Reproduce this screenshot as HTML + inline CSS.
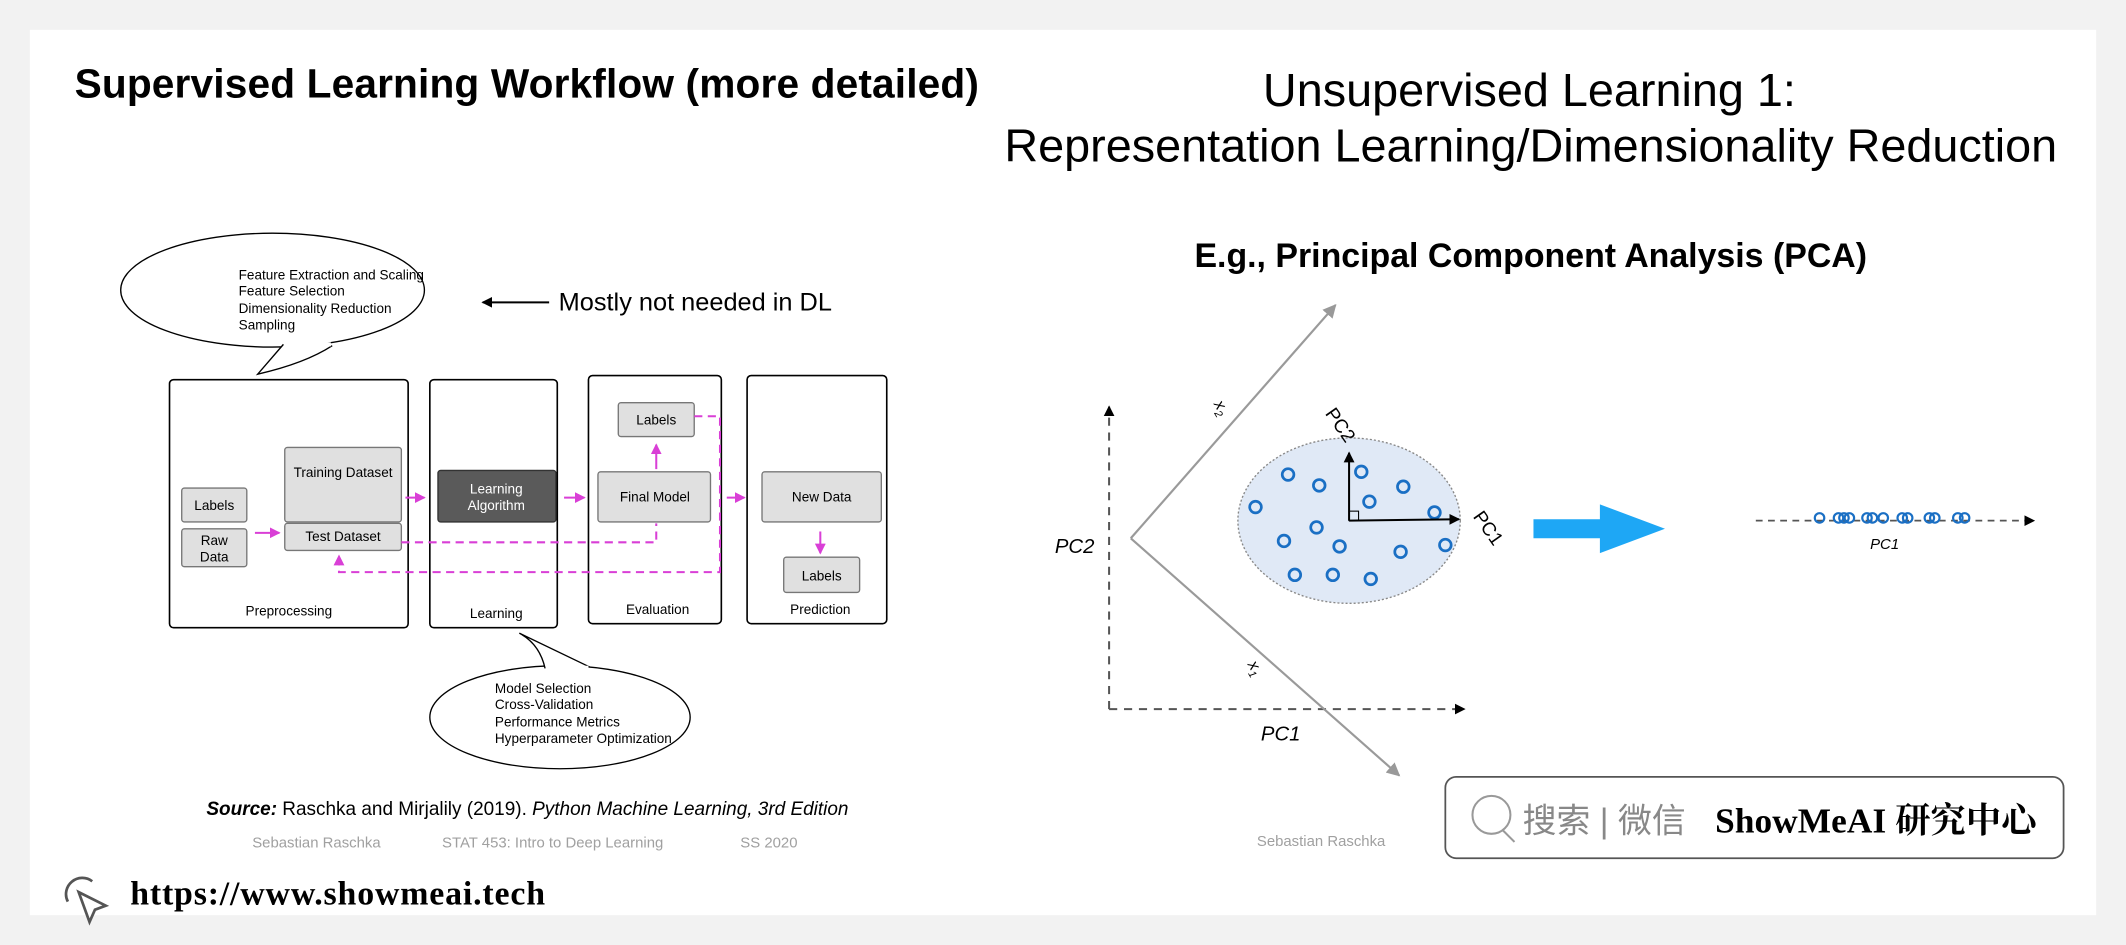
<!DOCTYPE html>
<html><head><meta charset="utf-8"><style>
html,body{margin:0;padding:0;background:#f2f2f2;}
svg{display:block;}
.s{font-family:"Liberation Sans",sans-serif;}
</style></head><body>
<svg width="2126" height="945" viewBox="0 0 1568 697" xmlns="http://www.w3.org/2000/svg" class="s">
<defs>
<marker id="mk" markerWidth="8" markerHeight="8" refX="7" refY="4" orient="auto" markerUnits="userSpaceOnUse"><path d="M0,0 L8,4 L0,8 Z" fill="#000"/></marker>
<marker id="mg" markerWidth="10" markerHeight="10" refX="9" refY="5" orient="auto" markerUnits="userSpaceOnUse"><path d="M0,0 L10,5 L0,10 Z" fill="#999"/></marker>
<marker id="mm" markerWidth="8" markerHeight="8" refX="7" refY="4" orient="auto" markerUnits="userSpaceOnUse"><path d="M0,0 L8,4 L0,8 Z" fill="#d93fd6"/></marker>
</defs>
<rect x="0" y="0" width="1568" height="697" fill="#f2f2f2"/>
<rect x="22" y="22" width="1524" height="653" fill="#fff"/>

<text x="55" y="72" font-size="30" font-weight="bold" textLength="667">Supervised Learning Workflow (more detailed)</text>
<text x="1128" y="78" font-size="34.5" text-anchor="middle">Unsupervised Learning 1:</text>
<text x="1129" y="119" font-size="34.5" text-anchor="middle">Representation Learning/Dimensionality Reduction</text>
<text x="1129" y="197" font-size="25" font-weight="bold" text-anchor="middle">E.g., Principal Component Analysis (PCA)</text>

<!-- top bubble -->
<ellipse cx="201" cy="214" rx="112" ry="42" fill="#fff" stroke="#000" stroke-width="1"/>
<path d="M209,254 L190,276 Q225,268 245,255" fill="#fff" stroke="#000"/>
<path d="M210,253.5 L244,254" stroke="#fff" stroke-width="3"/>
<g font-size="10">
<text x="176" y="206">Feature Extraction and Scaling</text>
<text x="176" y="218">Feature Selection</text>
<text x="176" y="231">Dimensionality Reduction</text>
<text x="176" y="243">Sampling</text>
</g>
<line x1="405" y1="223" x2="356" y2="223" stroke="#000" stroke-width="1.5" marker-end="url(#mk)"/>
<text x="412" y="229" font-size="18.7">Mostly not needed in DL</text>

<!-- boxes -->
<g fill="none" stroke="#000" stroke-width="1.2">
<rect x="125" y="280" width="176" height="183" rx="3"/>
<rect x="317" y="280" width="94" height="183" rx="3"/>
<rect x="434" y="277" width="98" height="183" rx="3"/>
<rect x="551" y="277" width="103" height="183" rx="3"/>
</g>
<g fill="#e0e0e0" stroke="#777" stroke-width="1">
<rect x="134" y="360" width="48" height="25" rx="2"/>
<rect x="134" y="390" width="48" height="28" rx="2"/>
<rect x="210" y="330" width="86" height="55" rx="2"/>
<rect x="210" y="386" width="86" height="20" rx="2"/>
<rect x="456" y="297" width="56" height="25" rx="2"/>
<rect x="441" y="348" width="83" height="37" rx="2"/>
<rect x="562" y="348" width="88" height="37" rx="2"/>
<rect x="578" y="411" width="56" height="26" rx="2"/>
</g>
<rect x="323" y="347" width="87" height="38" rx="2" fill="#5a5a5a" stroke="#333"/>
<g font-size="10" text-anchor="middle">
<text x="158" y="376">Labels</text>
<text x="158" y="402">Raw</text><text x="158" y="414">Data</text>
<text x="253" y="352">Training Dataset</text>
<text x="253" y="399">Test Dataset</text>
<text x="366" y="364" fill="#fff">Learning</text><text x="366" y="376" fill="#fff">Algorithm</text>
<text x="484" y="313">Labels</text>
<text x="483" y="370">Final Model</text>
<text x="606" y="370">New Data</text>
<text x="606" y="428">Labels</text>
<text x="213" y="454">Preprocessing</text>
<text x="366" y="456">Learning</text>
<text x="485" y="453">Evaluation</text>
<text x="605" y="453">Prediction</text>
</g>
<!-- magenta -->
<g stroke="#d93fd6" stroke-width="1.5" fill="none">
<line x1="188" y1="393" x2="206" y2="393" marker-end="url(#mm)"/>
<line x1="299" y1="367" x2="313" y2="367" marker-end="url(#mm)"/>
<line x1="416" y1="367" x2="431" y2="367" marker-end="url(#mm)"/>
<line x1="484" y1="346" x2="484" y2="328" marker-end="url(#mm)"/>
<line x1="536" y1="367" x2="549" y2="367" marker-end="url(#mm)"/>
<line x1="605" y1="392" x2="605" y2="408" marker-end="url(#mm)"/>
<path d="M296,400 L484,400 L484,386" stroke-dasharray="6,4"/>
<path d="M512,307 L531,307 L531,422 L250,422 L250,410" stroke-dasharray="6,4" marker-end="url(#mm)"/>
</g>

<!-- bottom bubble -->
<ellipse cx="413" cy="529" rx="96" ry="38" fill="#fff" stroke="#000"/>
<path d="M435,492 L383,467 Q398,475 402,493" fill="#fff" stroke="#000"/>
<path d="M403,492.5 L434,492.5" stroke="#fff" stroke-width="3"/>
<g font-size="10">
<text x="365" y="511">Model Selection</text>
<text x="365" y="523">Cross-Validation</text>
<text x="365" y="536">Performance Metrics</text>
<text x="365" y="548">Hyperparameter Optimization</text>
</g>

<text x="389" y="601" font-size="14" text-anchor="middle"><tspan font-weight="bold" font-style="italic">Source:</tspan> Raschka and Mirjalily (2019). <tspan font-style="italic">Python Machine Learning, 3rd Edition</tspan></text>
<g font-size="11" fill="#a0a0a0">
<text x="186" y="625">Sebastian Raschka</text>
<text x="326" y="625">STAT 453: Intro to Deep Learning</text>
<text x="546" y="625">SS 2020</text>
<text x="927" y="624">Sebastian Raschka</text>
</g>
<!-- logo -->
<g stroke="#555" stroke-width="2" fill="none">
<path d="M50,665 A12,12 0 0 1 68,650"/>
<path d="M58,658 L78,668 L70,671 L66,680 Z" fill="#fff"/>
</g>
<text x="96" y="667" font-size="25" font-weight="bold" font-family="Liberation Serif,serif" textLength="306">https://www.showmeai.tech</text>

<!-- PCA left -->
<g stroke="#555" stroke-width="1.5" fill="none" stroke-dasharray="6,5">
<line x1="818" y1="523" x2="818" y2="300" marker-end="url(#mk)"/>
<line x1="818" y1="523" x2="1080" y2="523" marker-end="url(#mk)"/>
</g>
<text x="778" y="408" font-size="15" font-style="italic">PC2</text>
<text x="930" y="546" font-size="15" font-style="italic">PC1</text>
<g stroke="#9a9a9a" stroke-width="1.6" fill="none">
<line x1="834" y1="397" x2="985" y2="225" marker-end="url(#mg)"/>
<line x1="834" y1="397" x2="1032" y2="572" marker-end="url(#mg)"/>
</g>
<text x="0" y="0" font-size="12" font-style="italic" transform="translate(895,298) rotate(60)">x<tspan font-size="8" dy="3">2</tspan></text>
<text x="0" y="0" font-size="12" font-style="italic" transform="translate(920,490) rotate(60)">x<tspan font-size="8" dy="3">1</tspan></text>
<ellipse cx="995" cy="384" rx="82" ry="61" fill="#e0e9f6" stroke="#888" stroke-dasharray="1.5,1.5"/>
<g stroke="#1a6fc4" stroke-width="2" fill="none">
<circle cx="950" cy="350" r="4.3"/><circle cx="973" cy="358" r="4.3"/><circle cx="1004" cy="348" r="4.3"/>
<circle cx="1035" cy="359" r="4.3"/><circle cx="926" cy="374" r="4.3"/><circle cx="1010" cy="370" r="4.3"/>
<circle cx="1058" cy="378" r="4.3"/><circle cx="971" cy="389" r="4.3"/><circle cx="947" cy="399" r="4.3"/>
<circle cx="988" cy="403" r="4.3"/><circle cx="1033" cy="407" r="4.3"/><circle cx="1066" cy="402" r="4.3"/>
<circle cx="955" cy="424" r="4.3"/><circle cx="983" cy="424" r="4.3"/><circle cx="1011" cy="427" r="4.3"/>
</g>
<g stroke="#000" stroke-width="1.5">
<line x1="995" y1="384" x2="995" y2="334" marker-end="url(#mk)"/>
<line x1="995" y1="384" x2="1076" y2="383" marker-end="url(#mk)"/>
</g>
<rect x="995" y="377" width="7" height="7" fill="none" stroke="#000" stroke-width="0.8"/>
<text x="0" y="0" font-size="14" transform="translate(977,305) rotate(55)">PC2</text>
<text x="0" y="0" font-size="14" transform="translate(1086,381) rotate(55)">PC1</text>

<!-- big arrow -->
<path d="M1131,383 L1180,383 L1180,372 L1228,390 L1180,408 L1180,397 L1131,397 Z" fill="#1ea7f5"/>

<!-- right projection -->
<line x1="1295" y1="384" x2="1500" y2="384" stroke="#555" stroke-width="1.3" stroke-dasharray="5,4" marker-end="url(#mk)"/>
<g stroke="#1a6fc4" stroke-width="1.6" fill="none">
<circle cx="1342" cy="382" r="3.5"/><circle cx="1356" cy="382" r="3.5"/><circle cx="1360" cy="382" r="3.5"/><circle cx="1364" cy="382" r="3.5"/>
<circle cx="1377" cy="382" r="3.5"/><circle cx="1381" cy="382" r="3.5"/><circle cx="1389" cy="382" r="3.5"/>
<circle cx="1403" cy="382" r="3.5"/><circle cx="1407" cy="382" r="3.5"/><circle cx="1423" cy="382" r="3.5"/>
<circle cx="1427" cy="382" r="3.5"/><circle cx="1444" cy="382" r="3.5"/><circle cx="1449" cy="382" r="3.5"/>
</g>
<text x="1390" y="405" font-size="11" font-style="italic" text-anchor="middle">PC1</text>

<!-- showmeai box -->
<rect x="1066" y="573" width="456" height="60" rx="8" fill="#fff" stroke="#555" stroke-width="1.3"/>
<circle cx="1100" cy="601" r="14" fill="none" stroke="#999" stroke-width="1.5"/>
<line x1="1108" y1="612" x2="1117" y2="621" stroke="#999" stroke-width="1.5"/>
<text x="1123" y="614" font-size="25" fill="#888" font-family="Liberation Sans,'Noto Sans CJK SC',sans-serif">搜索 | 微信</text>
<text x="1265" y="614" font-size="26" font-weight="bold" font-family="Liberation Serif,'Noto Serif CJK SC','Noto Sans CJK SC',serif" textLength="237">ShowMeAI 研究中心</text>
</svg>
</body></html>
